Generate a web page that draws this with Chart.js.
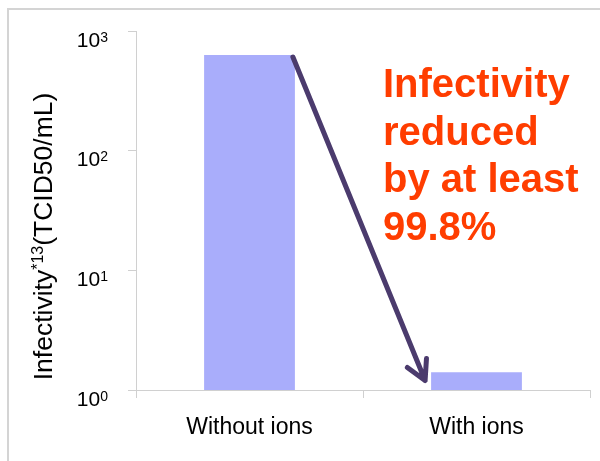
<!DOCTYPE html>
<html>
<head>
<meta charset="utf-8">
<title>Infectivity</title>
<script src="https://cdn.jsdelivr.net/npm/chart.js@4"></script>
<style>
    html, body { margin: 0; padding: 0; background: #fff; }
    #wrap { position: relative; width: 600px; height: 461px; overflow: hidden; }
    #frame { position: absolute; left: 7px; top: 8px; right: -4px; bottom: -4px;
             border-top: 2px solid #d4d4d4; border-left: 2px solid #d4d4d4; }
    canvas { position: absolute; left: 0; top: 0; }
</style>
</head>
<body>
<div id="wrap">
    <div id="frame"></div>
    <canvas id="chart" width="600" height="461"></canvas>
</div>
<script>
// Data
const categories = ['Without ions', 'With ions'];
const infectivity = [630, 1.41];
const yTickValues = [1, 10, 100, 1000];
const yTickExponents = ['0', '1', '2', '3'];
const noteLines = ['Infectivity', 'reduced', 'by at least', '99.8%'];
const arrowTipValue = 1.2;

const FONT = "'Liberation Sans', Arial, Helvetica, sans-serif";
const AXIS_GREY = '#d0d0d0';

// Draws the arrow, superscript tick labels, axis title and the red note
const decorations = {
    id: 'decorations',
    afterDatasetsDraw(chart) {
        const ctx = chart.ctx;
        const yScale = chart.scales.y;
        const bars = chart.getDatasetMeta(0).data.map(b => b.getProps(['x', 'y', 'width'], true));

        const from = { x: bars[0].x + bars[0].width / 2 - 2, y: bars[0].y + 2 };
        const to = { x: bars[1].x - bars[1].width / 2 - 6, y: yScale.getPixelForValue(arrowTipValue) };
        const angle = Math.atan2(to.y - from.y, to.x - from.x);
        const head = 22;

        ctx.save();
        ctx.strokeStyle = '#4b3b6d';
        ctx.lineWidth = 5;
        ctx.lineCap = 'round';
        ctx.lineJoin = 'round';
        ctx.beginPath();
        ctx.moveTo(from.x, from.y);
        ctx.lineTo(to.x, to.y);
        ctx.moveTo(to.x + head * Math.cos(angle + Math.PI - 0.55), to.y + head * Math.sin(angle + Math.PI - 0.55));
        ctx.lineTo(to.x, to.y);
        ctx.lineTo(to.x + head * Math.cos(angle + Math.PI + 0.45), to.y + head * Math.sin(angle + Math.PI + 0.45));
        ctx.stroke();
        ctx.restore();
    },
    afterDraw(chart) {
        const ctx = chart.ctx;
        const yScale = chart.scales.y;

        ctx.save();
        ctx.fillStyle = '#000';
        ctx.textBaseline = 'alphabetic';

        // y tick labels: 10 with exponent
        const labelRight = yScale.right - 28;
        yTickValues.forEach((v, i) => {
            const py = yScale.getPixelForValue(v) + 15.5;
            ctx.font = `14px ${FONT}`;
            ctx.textAlign = 'right';
            const supW = ctx.measureText(yTickExponents[i]).width;
            ctx.fillText(yTickExponents[i], labelRight, py - 5);
            ctx.font = `21px ${FONT}`;
            ctx.fillText('10', labelRight - supW, py);
        });

        // rotated axis title
        const parts = [
            { text: 'Infectivity', size: 26.5, rise: 0 },
            { text: '*13', size: 16, rise: 9 },
            { text: '(TCID50/mL)', size: 26.5, rise: 0 }
        ];
        ctx.textAlign = 'left';
        let total = 0;
        parts.forEach(p => {
            ctx.font = `${p.size}px ${FONT}`;
            p.w = ctx.measureText(p.text).width;
            total += p.w;
        });
        ctx.translate(52, (chart.chartArea.top + chart.chartArea.bottom) / 2 + 26);
        ctx.rotate(-Math.PI / 2);
        let x = -total / 2;
        parts.forEach(p => {
            ctx.font = `${p.size}px ${FONT}`;
            ctx.fillText(p.text, x, -p.rise);
            x += p.w;
        });
        ctx.restore();

        // red note
        ctx.save();
        ctx.fillStyle = '#ff3d00';
        ctx.font = `bold 40px ${FONT}`;
        ctx.textAlign = 'left';
        ctx.textBaseline = 'alphabetic';
        noteLines.forEach((line, i) => {
            ctx.fillText(line, 383, 97 + i * 47.7);
        });
        ctx.restore();
    }
};

new Chart(document.getElementById('chart'), {
    type: 'bar',
    data: {
        labels: categories,
        datasets: [{
            data: infectivity,
            backgroundColor: '#a9adfb',
            borderWidth: 0,
            barPercentage: 0.4,
            categoryPercentage: 1
        }]
    },
    options: {
        responsive: false,
        devicePixelRatio: 1,
        animation: false,
        events: [],
        layout: { padding: { top: 31, right: 10, left: 0, bottom: 0 } },
        plugins: { legend: { display: false }, tooltip: { enabled: false } },
        scales: {
            x: {
                grid: { drawOnChartArea: false, offset: true, tickLength: 8, color: AXIS_GREY },
                border: { color: AXIS_GREY },
                ticks: { color: '#000', font: { family: FONT, size: 23 }, padding: 16, maxRotation: 0 },
                afterFit(scale) { scale.height = 71; }
            },
            y: {
                type: 'logarithmic',
                min: 1,
                max: 1000,
                afterBuildTicks(scale) { scale.ticks = yTickValues.map(v => ({ value: v })); },
                grid: { tickLength: 8, drawOnChartArea: false, color: AXIS_GREY },
                border: { color: AXIS_GREY },
                ticks: { display: false },
                afterFit(scale) { scale.width = 136; }
            }
        }
    },
    plugins: [decorations]
});
</script>
</body>
</html>
